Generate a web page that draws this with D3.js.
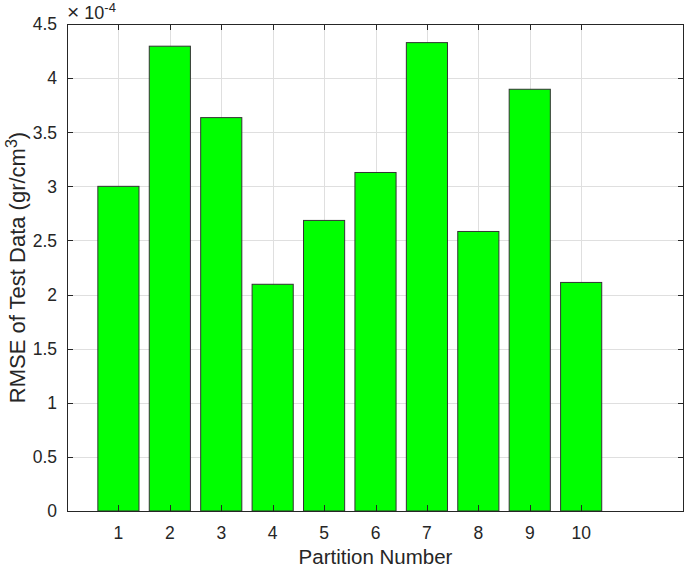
<!DOCTYPE html>
<meta charset="utf-8">
<style>
body {
  margin: 0px;
  background-color: white;
}
svg {
  font-family: "Liberation Sans", Arial, sans-serif;
}
.grid line {
  stroke: #dfdfdf;
  stroke-width: 1px;
  shape-rendering: crispEdges;
}
.bar {
  fill: #00ff00;
  stroke: #333333;
  stroke-width: 1px;
}
.tick-mark {
  stroke: #262626;
  stroke-width: 1px;
  shape-rendering: crispEdges;
}
.label {
  fill: #262626;
}
</style>
<svg width="685" height="568"></svg>
<script src="https://cdn.jsdelivr.net/npm/d3@7"></script>
<script>

// partitions and RMSE values (x 1e-4)
var partitions = [1, 2, 3, 4, 5, 6, 7, 8, 9, 10];
var rmse = [3.00, 4.295, 3.635, 2.095, 2.685, 3.128, 4.328, 2.583, 3.897, 2.112];
var yTicks = [0, 0.5, 1, 1.5, 2, 2.5, 3, 3.5, 4, 4.5];
var xTicks = [1, 2, 3, 4, 5, 6, 7, 8, 9, 10];

var svg = d3.select("svg"),
    margin = {top: 24, right: 1, bottom: 57, left: 67},
    width = svg.attr("width") - margin.left - margin.right,
    height = svg.attr("height") - margin.top - margin.bottom,
    g = svg.append("g").attr("transform", "translate(" + margin.left + "," + margin.top + ")");

var x = d3.scaleLinear().domain([0, 12]).range([0, width]),
    y = d3.scaleLinear().domain([0, 4.5]).range([height, 0]);

var data = partitions.map(function(p, i) { return {p: p, v: rmse[i]}; });

// grid lines
var grid = g.append("g").attr("class", "grid");
grid.selectAll(".gx")
  .data(xTicks)
  .enter().append("line")
    .attr("x1", function(d) { return Math.round(x(d)) + 0.5; })
    .attr("x2", function(d) { return Math.round(x(d)) + 0.5; })
    .attr("y1", 0)
    .attr("y2", height);
grid.selectAll(".gy")
  .data(yTicks)
  .enter().append("line")
    .attr("x1", 0)
    .attr("x2", width)
    .attr("y1", function(d) { return Math.round(y(d)) + 0.5; })
    .attr("y2", function(d) { return Math.round(y(d)) + 0.5; });

// bars, width 0.8 like matlab
g.selectAll(".bar")
  .data(data)
  .enter().append("rect")
    .attr("class", "bar")
    .attr("x", function(d) { return x(d.p - 0.4); })
    .attr("width", x(0.8) - x(0))
    .attr("y", function(d) { return y(d.v); })
    .attr("height", function(d) { return height - y(d.v); });

// box
g.append("rect")
  .attr("x", 0.5)
  .attr("y", 0.5)
  .attr("width", width - 1)
  .attr("height", height)
  .style("fill", "none")
  .style("stroke", "#262626")
  .style("stroke-width", 1)
  .style("shape-rendering", "crispEdges");

var tl = 6;

// inward ticks on all four sides
xTicks.forEach(function(t) {
  var px = Math.round(x(t)) + 0.5;
  g.append("line").attr("class", "tick-mark")
    .attr("x1", px).attr("x2", px).attr("y1", 0).attr("y2", tl);
  g.append("line").attr("class", "tick-mark")
    .attr("x1", px).attr("x2", px).attr("y1", height).attr("y2", height - tl);
});
yTicks.forEach(function(t) {
  var py = Math.round(y(t)) + 0.5;
  g.append("line").attr("class", "tick-mark")
    .attr("x1", 0).attr("x2", tl).attr("y1", py).attr("y2", py);
  g.append("line").attr("class", "tick-mark")
    .attr("x1", width).attr("x2", width - tl).attr("y1", py).attr("y2", py);
});

// tick labels
g.selectAll(".xl")
  .data(xTicks)
  .enter().append("text")
    .attr("class", "label")
    .attr("x", function(d) { return x(d); })
    .attr("y", height + 28)
    .attr("text-anchor", "middle")
    .style("font-size", "17.5px")
    .text(function(d) { return d; });

g.selectAll(".yl")
  .data(yTicks)
  .enter().append("text")
    .attr("class", "label")
    .attr("x", -10)
    .attr("y", function(d) { return y(d); })
    .attr("dy", "0.36em")
    .attr("text-anchor", "end")
    .style("font-size", "17.5px")
    .text(function(d) { return d; });

// exponent label
var ex = svg.append("text")
  .attr("class", "label")
  .attr("x", 67)
  .attr("y", 19)
  .style("font-size", "18px");
ex.append("tspan").style("font-size", "21px").text("\u00d7");
ex.append("tspan").text(" 10");
ex.append("tspan").attr("dy", -7).style("font-size", "13px").text("-4");

// axis titles
svg.append("text")
  .attr("class", "label")
  .attr("x", margin.left + width / 2)
  .attr("y", 564)
  .attr("text-anchor", "middle")
  .style("font-size", "20.5px")
  .text("Partition Number");

var yl = svg.append("text")
  .attr("class", "label")
  .attr("transform", "translate(25," + (margin.top + height / 2) + ") rotate(-90)")
  .attr("text-anchor", "middle")
  .style("font-size", "22px");
yl.append("tspan").text("RMSE of Test Data (gr/cm");
yl.append("tspan").attr("dy", -8).style("font-size", "16px").text("3");
yl.append("tspan").attr("dy", 8).text(")");

</script>
